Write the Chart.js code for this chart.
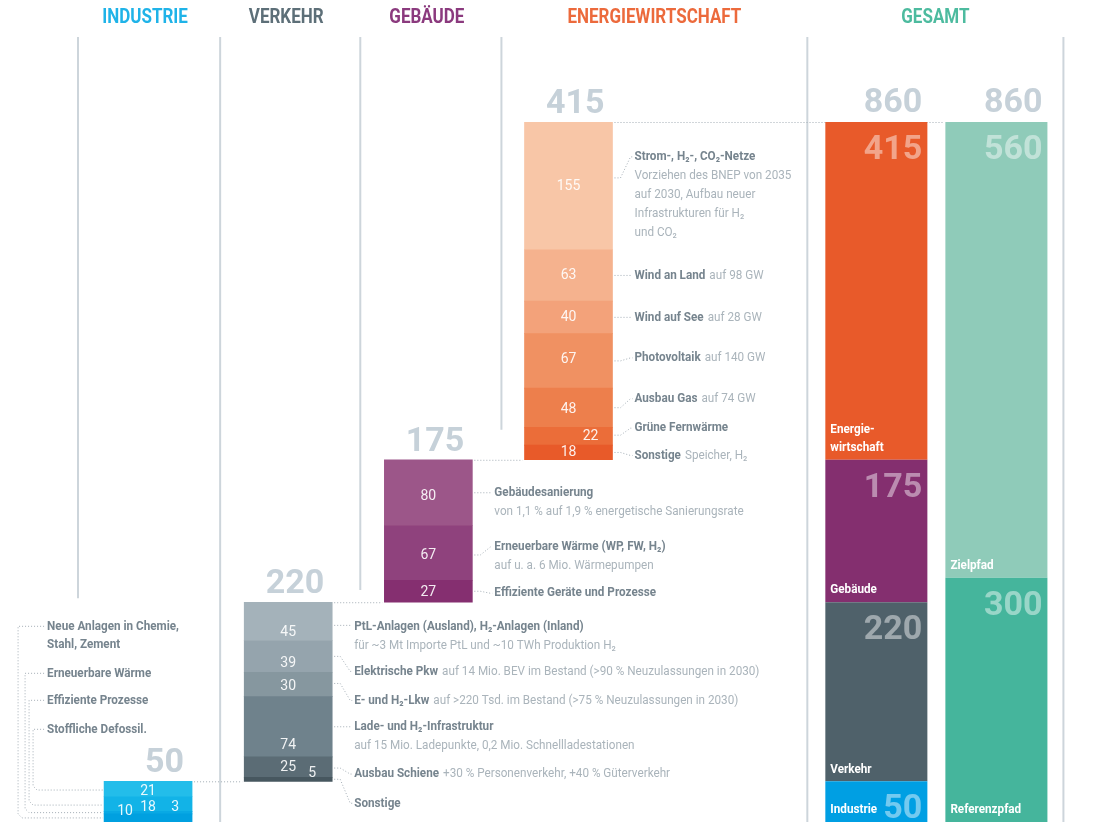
<!DOCTYPE html>
<html lang="de">
<head>
<meta charset="utf-8">
<script src="https://cdn.jsdelivr.net/npm/chart.js@4.4.1/dist/chart.umd.min.js"></script>
<style>
  html, body { margin: 0; padding: 0; background: #fff; }
  canvas { display: block; }
</style>
</head>
<body>
<canvas id="chart" width="1099" height="823"></canvas>
<script>
// Sektoren mit ihren Summen (Investitionen, Mrd. Euro)
const sektoren = ['INDUSTRIE', 'VERKEHR', 'GEBÄUDE', 'ENERGIEWIRTSCHAFT'];
const sektorSummen = [50, 220, 175, 415];

// Einzelposten je Sektor, jeweils von oben nach unten
const industrieWerte = [21, 18, 3, 10];
const verkehrWerte = [45, 39, 30, 74, 25, 5];
const gebaeudeWerte = [80, 67, 27];
const energieWerte = [155, 63, 40, 67, 48, 22, 18];

// Gesamtbalken
const gesamtLabels = ['Industrie', 'Verkehr', 'Gebäude', 'Energie-\nwirtschaft'];
const gesamtWerte = [50, 220, 175, 415];
const gesamtSumme = 860;
const pfadLabels = ['Referenzpfad', 'Zielpfad'];
const pfadWerte = [300, 560];

// Beschriftungen: [fett, normal dahinter, weitere Zeilen]
const industrieTexte = [
    ['Stoffliche Defossil.'],
    ['Effiziente Prozesse'],
    ['Erneuerbare Wärme'],
    ['Neue Anlagen in Chemie,', '', ['Stahl, Zement']]
];
const verkehrTexte = [
    ['PtL-Anlagen (Ausland), H₂-Anlagen (Inland)', '', ['für ~3 Mt Importe PtL und ~10 TWh Produktion H₂']],
    ['Elektrische Pkw', 'auf 14 Mio. BEV im Bestand (>90 % Neuzulassungen in 2030)'],
    ['E- und H₂-Lkw', 'auf >220 Tsd. im Bestand (>75 % Neuzulassungen in 2030)'],
    ['Lade- und H₂-Infrastruktur', '', ['auf 15 Mio. Ladepunkte, 0,2 Mio. Schnellladestationen']],
    ['Ausbau Schiene', '+30 % Personenverkehr, +40 % Güterverkehr'],
    ['Sonstige']
];
const gebaeudeTexte = [
    ['Gebäudesanierung', '', ['von 1,1 % auf 1,9 % energetische Sanierungsrate']],
    ['Erneuerbare Wärme (WP, FW, H₂)', '', ['auf u. a. 6 Mio. Wärmepumpen']],
    ['Effiziente Geräte und Prozesse']
];
const energieTexte = [
    ['Strom-, H₂-, CO₂-Netze', '', ['Vorziehen des BNEP von 2035', 'auf 2030, Aufbau neuer', 'Infrastrukturen für H₂', 'und CO₂']],
    ['Wind an Land', 'auf 98 GW'],
    ['Wind auf See', 'auf 28 GW'],
    ['Photovoltaik', 'auf 140 GW'],
    ['Ausbau Gas', 'auf 74 GW'],
    ['Grüne Fernwärme'],
    ['Sonstige', 'Speicher, H₂']
];

// Farben
const kopfFarben = ['#1fb3e8', '#5d6f78', '#8b3a7e', '#ec6a3c'];
const gesamtKopfFarbe = '#4dbb9f';
const sektorPaletten = [
    ['#23bdea', '#12b3e7', '#08a9e4', '#00a0e0'],
    ['#a4b2ba', '#95a4ad', '#86979f', '#6f828c', '#5b6c75', '#47575f'],
    ['#9c5689', '#8f427d', '#852f70'],
    ['#f8c6a7', '#f5b28e', '#f3a27a', '#f09162', '#ed7f4c', '#eb6d39', '#e85a29']
];
const gesamtFarben = ['#009fe3', '#4f616a', '#842f6f', '#e85a2a'];
const pfadFarben = ['#45b59c', '#8fcbb9'];

// Feinkorrekturen der Textlage (px): Zahl im Balken [dx, dy]
const zahlVersatz = [
    [[0, 2], [0, 3], [27, -5], [-23, -6]],
    [[0, 11], [0, 7], [0, 2], [0, 19], [0, 0], [24, -6]],
    [[0, 4], [0, 3], [0, 1]],
    [[0, 1], [0, 0], [0, 0], [0, -1], [0, 2], [22, 0], [0, 0]]
];
// Beschriftung rechts: [Text dy, Linie dy] zur Segmentmitte
const textVersatz = [
    null,
    [[5, 4], [15, 0], [16, -1], [0, 0], [7, 1], [24, 0]],
    [[0, 0], [-6, 2], [2, 0]],
    [[-29, -8], [0, 0], [0, 0], [-3, 0], [-9, 0], [-8, -1], [3, 0]]
];
// Industrie links: Text dy zur Balkenoberkante, Klammer dx zum Balken
const industrieTextDy = [-52, -81, -108, -155];
const industrieKlammerDx = [-71, -75, -79, -86];

const schrift = 'Roboto, "DejaVu Sans Condensed", sans-serif';
const zahlSchrift = 'Roboto, "Liberation Sans", sans-serif';
const schmal = 0.9;
const farbeTitel = '#76848e';
const farbeDetail = '#aab4bb';
const farbeSumme = '#c6d1d9';
const farbeLinie = '#cdd5db';
const farbePunkte = '#a3adb5';

// Datensätze: Wasserfall der Sektoren
const xLabels = [...sektoren, '', '', ''];
const gLabels = ['', '', '', 'GESAMT'];
const sektorDaten = [industrieWerte, verkehrWerte, gebaeudeWerte, energieWerte];
const datasets = [];
const segmentIdx = [];
let basis = 0;
sektorDaten.forEach((werte, s) => {
    const oben = basis + sektorSummen[s];
    segmentIdx[s] = [];
    let unten = basis;
    for (let i = werte.length - 1; i >= 0; i--) {
        const ende = i === 0 ? oben : unten + werte[i];
        segmentIdx[s][i] = datasets.length;
        datasets.push({
            data: xLabels.map((_, k) => k === s ? [unten, ende] : null),
            backgroundColor: sektorPaletten[s][i],
            xAxisID: 'x',
            grouped: false,
            barThickness: 88
        });
        unten = ende;
    }
    basis = oben;
});

// Gesamt: Sektoren und Pfade nebeneinander
const gesamtIdx = [];
let g = 0;
gesamtWerte.forEach((w, i) => {
    gesamtIdx.push(datasets.length);
    datasets.push({
        data: gLabels.map((_, k) => k === 3 ? [g, g + w] : null),
        backgroundColor: gesamtFarben[i],
        xAxisID: 'xg', stack: 'sektoren',
        categoryPercentage: 1.958, barPercentage: 0.85
    });
    g += w;
});
const pfadIdx = [];
let p = 0;
pfadWerte.forEach((w, i) => {
    pfadIdx.push(datasets.length);
    datasets.push({
        data: gLabels.map((_, k) => k === 3 ? [p, p + w] : null),
        backgroundColor: pfadFarben[i],
        xAxisID: 'xg', stack: 'pfad',
        categoryPercentage: 1.958, barPercentage: 0.85
    });
    p += w;
});

function schreibe(ctx, txt, x, y, font, farbe, align, baseline, sx) {
    ctx.save();
    ctx.font = font;
    ctx.fillStyle = farbe;
    ctx.textAlign = align || 'left';
    ctx.textBaseline = baseline || 'middle';
    ctx.translate(x, y);
    ctx.scale(sx || 1, 1);
    ctx.fillText(txt, 0, 0);
    ctx.restore();
}

function breite(ctx, txt, font, sx) {
    ctx.save();
    ctx.font = font;
    const w = ctx.measureText(txt).width * (sx || 1);
    ctx.restore();
    return w;
}

function punktLinie(ctx, punkte) {
    ctx.save();
    ctx.strokeStyle = farbePunkte;
    ctx.lineWidth = 1;
    ctx.setLineDash([1, 2]);
    ctx.beginPath();
    punkte.forEach(([x, y], k) => k ? ctx.lineTo(x, y) : ctx.moveTo(x, y));
    ctx.stroke();
    ctx.restore();
}

const element = (chart, ds, idx) => chart.getDatasetMeta(ds).data[idx];
const links = el => el.x - el.width / 2;
const rechts = el => el.x + el.width / 2;

// Trennlinien, Kopfzeile, Verbindungslinien (hinter den Balken)
const hintergrund = {
    id: 'hintergrund',
    beforeDatasetsDraw(chart) {
        const ctx = chart.ctx;
        const y = chart.scales.y;
        const sek = sektoren.map((_, s) => element(chart, segmentIdx[s][0], s));
        const g1 = element(chart, gesamtIdx[0], 3);
        const g2 = element(chart, pfadIdx[0], 3);

        const linien = [
            chart.chartArea.left,
            (rechts(sek[0]) + links(sek[1])) / 2 + 2,
            (rechts(sek[1]) + links(sek[2])) / 2 + 2,
            (rechts(sek[2]) + links(sek[3])) / 2 + 3,
            links(g1) - 18,
            rechts(g2) + 16
        ];
        const linienEnde = [275, 0, 285, 482, 0, 0];
        ctx.save();
        ctx.strokeStyle = farbeLinie;
        ctx.lineWidth = 2;
        linien.forEach((lx, k) => {
            ctx.beginPath();
            ctx.moveTo(lx, 37);
            ctx.lineTo(lx, y.getPixelForValue(linienEnde[k]));
            ctx.stroke();
        });
        ctx.restore();

        // Kopfzeile
        const kopf = [...sektoren, 'GESAMT'];
        const kFarben = [...kopfFarben, gesamtKopfFarbe];
        kopf.forEach((t, k) => {
            schreibe(ctx, t, (linien[k] + linien[k + 1]) / 2 - (k < 3 ? 4 : 0), 18,
                `bold 20px ${schrift}`, kFarben[k], 'center', 'middle', 0.85);
        });

        // Wasserfall-Verbindungen
        for (let s = 0; s < sek.length; s++) {
            const yy = Math.min(sek[s].y, sek[s].base);
            const ziel = s < sek.length - 1 ? links(sek[s + 1]) : links(g2);
            punktLinie(ctx, [[rechts(sek[s]) + 2, yy + 0.5], [ziel - 2, yy + 0.5]]);
        }
    }
};

// Zahlen und Beschriftungen
const beschriftung = {
    id: 'beschriftung',
    afterDatasetsDraw(chart) {
        const ctx = chart.ctx;
        const texte = [industrieTexte, verkehrTexte, gebaeudeTexte, energieTexte];
        const fett = `bold 13px ${schrift}`;
        const normal = `13px ${schrift}`;

        sektorDaten.forEach((werte, s) => {
            const oberstes = element(chart, segmentIdx[s][0], s);
            const top = Math.min(oberstes.y, oberstes.base);
            // Summe über dem Balken
            schreibe(ctx, String(sektorSummen[s]), rechts(oberstes) - 8, top - 9,
                `bold 34px ${zahlSchrift}`, farbeSumme, 'right', 'alphabetic');

            werte.forEach((w, i) => {
                const el = element(chart, segmentIdx[s][i], s);
                const mitte = (el.y + el.base) / 2;
                const [dx, dy] = zahlVersatz[s][i];
                schreibe(ctx, String(w), el.x + dx, mitte + dy, `14px ${zahlSchrift}`, 'rgba(255,255,255,0.9)', 'center');

                const [titel, zusatz, zeilen] = texte[s][i];
                if (s === 0) {
                    // Industrie: Texte links mit Klammerlinien
                    const tx = links(el) - 57;
                    const ty = top + industrieTextDy[i];
                    const kx = links(el) + industrieKlammerDx[i];
                    const ly = mitte + (i < 2 ? 1 : 0);
                    punktLinie(ctx, [[tx - 3, ty], [kx, ty], [kx, ly - 4], [kx + 4, ly], [links(el) - 1, ly]]);
                    schreibe(ctx, titel, tx, ty, fett, farbeTitel, 'left', 'middle', schmal);
                    (zeilen || []).forEach((z, k) => schreibe(ctx, z, tx, ty + 18 * (k + 1), fett, farbeTitel, 'left', 'middle', schmal));
                    return;
                }
                const [tdy, ldy] = textVersatz[s][i];
                const tx = rechts(el) + 22;
                const ty = mitte + tdy;
                const ly = mitte + ldy;
                const x0 = rechts(el) + 2;
                if (Math.abs(ty - ly) > 1) {
                    punktLinie(ctx, [[x0, ly], [x0 + 6, ly], [tx - 4, ty], [tx - 2, ty]]);
                } else {
                    punktLinie(ctx, [[x0, ly], [tx - 2, ly]]);
                }
                schreibe(ctx, titel, tx, ty, fett, farbeTitel, 'left', 'middle', schmal);
                if (zusatz) {
                    const b = breite(ctx, titel, fett, schmal);
                    schreibe(ctx, zusatz, tx + b + 4, ty, normal, farbeDetail, 'left', 'middle', schmal);
                }
                (zeilen || []).forEach((z, k) => schreibe(ctx, z, tx, ty + 19 * (k + 1), normal, farbeDetail, 'left', 'middle', schmal));
            });
        });

        // Gesamt
        const gruppen = [[gesamtIdx, gesamtWerte, gesamtLabels], [pfadIdx, pfadWerte, pfadLabels]];
        gruppen.forEach(([idx, werte, labels], gi) => {
            const oben = element(chart, idx[idx.length - 1], 3);
            schreibe(ctx, String(gesamtSumme), rechts(oben) - 5, Math.min(oben.y, oben.base) - 10,
                `bold 34px ${zahlSchrift}`, farbeSumme, 'right', 'alphabetic');
            werte.forEach((w, i) => {
                const el = element(chart, idx[i], 3);
                const top = Math.min(el.y, el.base);
                const unten = Math.max(el.y, el.base);
                // Industrie ist zu flach: Zahl unten rechts
                const yZahl = (gi === 0 && i === 0) ? unten - 4 : top + 37;
                schreibe(ctx, String(w), rechts(el) - 5, yZahl, `bold 34px ${zahlSchrift}`,
                    'rgba(255,255,255,0.45)', 'right', 'alphabetic');
                const zeilen = labels[i].split('\n');
                zeilen.forEach((z, k) => {
                    schreibe(ctx, z, links(el) + 5, unten - 12 - 18 * (zeilen.length - 1 - k),
                        fett, '#ffffff', 'left', 'middle', schmal);
                });
            });
        });
    }
};

new Chart(document.getElementById('chart'), {
    type: 'bar',
    data: { datasets },
    options: {
        responsive: false,
        animation: false,
        devicePixelRatio: 1,
        layout: { padding: { left: 78, right: 40, top: 122, bottom: 1 } },
        plugins: { legend: { display: false }, tooltip: { enabled: false } },
        scales: {
            x: { type: 'category', labels: xLabels, display: false, offset: true },
            xg: { type: 'category', labels: gLabels, display: false, offset: true, stacked: true },
            y: { type: 'linear', min: 0, max: 860, display: false, stacked: false }
        }
    },
    plugins: [hintergrund, beschriftung]
});
</script>
</body>
</html>
